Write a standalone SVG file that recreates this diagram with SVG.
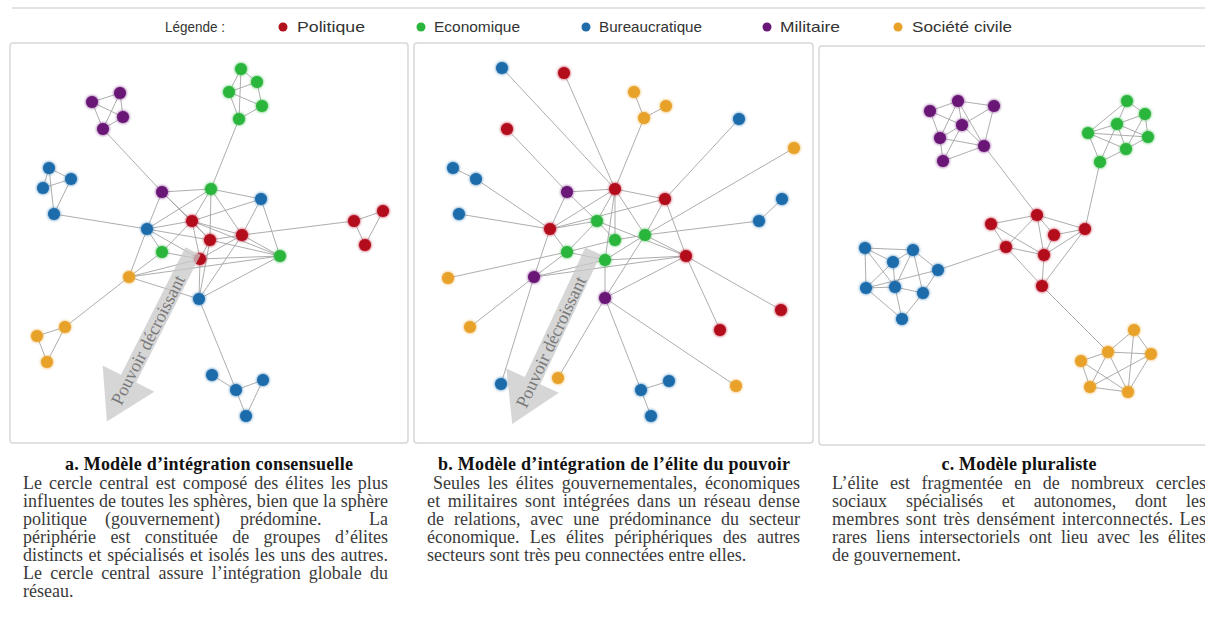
<svg xmlns="http://www.w3.org/2000/svg" width="1205" height="631" viewBox="0 0 1205 631">
<style>
.panel{fill:#fff;stroke:#d8d8d8;stroke-width:1.5}
.e line{stroke:#a4a4a4;stroke-width:1;stroke-opacity:0.9}
.r{fill:#b3101e}.g{fill:#2cb53c}.b{fill:#1f6cab}.p{fill:#6a1877}.o{fill:#e8a229}
.lg{font-family:"Liberation Sans",Arial,sans-serif;font-size:15px;fill:#333}
.t{font-family:"Liberation Serif","Times New Roman",serif;font-size:18px;font-weight:bold;fill:#111;text-anchor:middle}
.x{font-family:"Liberation Serif","Times New Roman",serif;font-size:18px;fill:#3a3a3a}
.arr{fill:#c8c8c8;fill-opacity:0.75}
.at{font-family:"Liberation Serif","Times New Roman",serif;font-size:18px;fill:#7a7a7a;text-anchor:middle;dominant-baseline:central}
</style>
<defs>
<filter id="glow" x="-50%" y="-50%" width="200%" height="200%">
<feGaussianBlur in="SourceGraphic" stdDeviation="1.6" result="bl"/>
<feMerge><feMergeNode in="bl"/><feMergeNode in="SourceGraphic"/></feMerge>
</filter>
<path id="arrowShape" d="M0,-8.5 L143,-8.5 L143,-29 L191,0 L143,29 L143,8.5 L0,8.5 Z"/>
</defs>
<rect width="1205" height="631" fill="#fff"/>
<line x1="12" y1="8" x2="1205" y2="8" stroke="#e4e4e4" stroke-width="2"/>

<g id="legend">
<text class="lg" x="165" y="32" textLength="60" lengthAdjust="spacingAndGlyphs">Légende :</text>
<circle cx="283" cy="27" r="4.5" class="r"/><text class="lg" x="297" y="32" textLength="68" lengthAdjust="spacingAndGlyphs">Politique</text>
<circle cx="421" cy="27" r="4.5" class="g"/><text class="lg" x="434" y="32" textLength="86" lengthAdjust="spacingAndGlyphs">Economique</text>
<circle cx="586" cy="27" r="4.5" class="b"/><text class="lg" x="599" y="32" textLength="103" lengthAdjust="spacingAndGlyphs">Bureaucratique</text>
<circle cx="767" cy="27" r="4.5" class="p"/><text class="lg" x="780" y="32" textLength="60" lengthAdjust="spacingAndGlyphs">Militaire</text>
<circle cx="898" cy="27" r="4.5" class="o"/><text class="lg" x="912" y="32" textLength="100" lengthAdjust="spacingAndGlyphs">Société civile</text>
</g>

<rect class="panel" x="10" y="43" width="398" height="400" rx="3"/>
<rect class="panel" x="414" y="43" width="399" height="400" rx="3"/>
<rect class="panel" x="819" y="46" width="400" height="399" rx="3"/>

<!-- Panel a connectors -->
<g id="connectors-a" class="e">
<line x1="92" y1="102" x2="120" y2="93"/><line x1="92" y1="102" x2="103" y2="129"/><line x1="120" y1="93" x2="103" y2="129"/><line x1="120" y1="93" x2="123" y2="117"/><line x1="103" y1="129" x2="123" y2="117"/><line x1="92" y1="102" x2="123" y2="117"/>
<line x1="103" y1="129" x2="162" y2="192"/>
<line x1="241" y1="69" x2="257" y2="82"/><line x1="241" y1="69" x2="229" y2="92"/><line x1="257" y1="82" x2="229" y2="92"/><line x1="257" y1="82" x2="262" y2="106"/><line x1="229" y1="92" x2="262" y2="106"/><line x1="229" y1="92" x2="239" y2="119"/><line x1="262" y1="106" x2="239" y2="119"/><line x1="241" y1="69" x2="239" y2="119"/>
<line x1="239" y1="119" x2="211" y2="189"/>
<line x1="49" y1="168" x2="71" y2="179"/><line x1="49" y1="168" x2="43" y2="188"/><line x1="43" y1="188" x2="71" y2="179"/><line x1="49" y1="168" x2="54" y2="214"/><line x1="71" y1="179" x2="54" y2="214"/>
<line x1="54" y1="214" x2="147" y2="229"/>
<line x1="354" y1="221" x2="383" y2="211"/><line x1="354" y1="221" x2="365" y2="245"/><line x1="383" y1="211" x2="365" y2="245"/><line x1="354" y1="221" x2="242" y2="235"/>
<line x1="65" y1="327" x2="37" y2="336"/><line x1="37" y1="336" x2="47" y2="362"/><line x1="65" y1="327" x2="47" y2="362"/><line x1="65" y1="327" x2="129" y2="277"/>
<line x1="212" y1="375" x2="236" y2="390"/><line x1="236" y1="390" x2="263" y2="380"/><line x1="236" y1="390" x2="246" y2="416"/><line x1="263" y1="380" x2="246" y2="416"/><line x1="236" y1="390" x2="199" y2="299"/>
<line x1="162" y1="192" x2="211" y2="189"/><line x1="162" y1="192" x2="192" y2="221"/><line x1="162" y1="192" x2="147" y2="229"/><line x1="162" y1="192" x2="210" y2="240"/>
<line x1="211" y1="189" x2="261" y2="199"/><line x1="211" y1="189" x2="192" y2="221"/><line x1="211" y1="189" x2="210" y2="240"/><line x1="211" y1="189" x2="242" y2="235"/><line x1="211" y1="189" x2="147" y2="229"/>
<line x1="261" y1="199" x2="192" y2="221"/><line x1="261" y1="199" x2="242" y2="235"/><line x1="261" y1="199" x2="280" y2="256"/>
<line x1="192" y1="221" x2="147" y2="229"/><line x1="192" y1="221" x2="242" y2="235"/><line x1="192" y1="221" x2="210" y2="240"/><line x1="192" y1="221" x2="162" y2="252"/><line x1="192" y1="221" x2="200" y2="259"/><line x1="192" y1="221" x2="280" y2="256"/>
<line x1="147" y1="229" x2="162" y2="252"/><line x1="147" y1="229" x2="200" y2="259"/><line x1="147" y1="229" x2="129" y2="277"/><line x1="147" y1="229" x2="210" y2="240"/>
<line x1="210" y1="240" x2="242" y2="235"/><line x1="210" y1="240" x2="200" y2="259"/><line x1="210" y1="240" x2="280" y2="256"/><line x1="210" y1="240" x2="199" y2="299"/>
<line x1="242" y1="235" x2="200" y2="259"/><line x1="242" y1="235" x2="280" y2="256"/><line x1="242" y1="235" x2="199" y2="299"/>
<line x1="162" y1="252" x2="200" y2="259"/><line x1="162" y1="252" x2="129" y2="277"/>
<line x1="200" y1="259" x2="280" y2="256"/><line x1="200" y1="259" x2="199" y2="299"/><line x1="200" y1="259" x2="129" y2="277"/>
<line x1="280" y1="256" x2="199" y2="299"/><line x1="129" y1="277" x2="199" y2="299"/><line x1="129" y1="277" x2="280" y2="256"/>
</g>

<!-- Panel b connectors -->
<g id="connectors-b" class="e">
<line x1="502" y1="68" x2="615" y2="189"/><line x1="564" y1="73" x2="615" y2="189"/><line x1="634" y1="92" x2="644" y2="118"/><line x1="666" y1="106" x2="644" y2="118"/><line x1="644" y1="118" x2="615" y2="189"/>
<line x1="739" y1="119" x2="665" y2="199"/><line x1="794" y1="148" x2="645" y2="235"/><line x1="507" y1="129" x2="567" y2="192"/>
<line x1="453" y1="168" x2="476" y2="179"/><line x1="476" y1="179" x2="550" y2="229"/><line x1="459" y1="214" x2="550" y2="229"/>
<line x1="782" y1="199" x2="759" y2="221"/><line x1="759" y1="221" x2="645" y2="235"/>
<line x1="448" y1="278" x2="567" y2="252"/><line x1="470" y1="327" x2="534" y2="277"/><line x1="501" y1="384" x2="534" y2="277"/>
<line x1="558" y1="378" x2="605" y2="298"/><line x1="641" y1="390" x2="605" y2="298"/><line x1="641" y1="390" x2="669" y2="381"/><line x1="641" y1="390" x2="651" y2="416"/>
<line x1="736" y1="386" x2="605" y2="298"/><line x1="720" y1="330" x2="686" y2="256"/><line x1="781" y1="310" x2="686" y2="256"/>
<line x1="567" y1="192" x2="615" y2="189"/><line x1="567" y1="192" x2="550" y2="229"/><line x1="567" y1="192" x2="597" y2="221"/>
<line x1="615" y1="189" x2="665" y2="199"/><line x1="615" y1="189" x2="550" y2="229"/><line x1="615" y1="189" x2="597" y2="221"/><line x1="615" y1="189" x2="615" y2="240"/><line x1="615" y1="189" x2="645" y2="235"/><line x1="615" y1="189" x2="605" y2="260"/>
<line x1="665" y1="199" x2="550" y2="229"/><line x1="665" y1="199" x2="645" y2="235"/><line x1="665" y1="199" x2="686" y2="256"/>
<line x1="550" y1="229" x2="597" y2="221"/><line x1="550" y1="229" x2="567" y2="252"/><line x1="550" y1="229" x2="534" y2="277"/>
<line x1="597" y1="221" x2="615" y2="240"/><line x1="597" y1="221" x2="567" y2="252"/><line x1="597" y1="221" x2="686" y2="256"/>
<line x1="615" y1="240" x2="645" y2="235"/><line x1="615" y1="240" x2="567" y2="252"/>
<line x1="645" y1="235" x2="686" y2="256"/><line x1="645" y1="235" x2="605" y2="260"/><line x1="645" y1="235" x2="605" y2="298"/>
<line x1="567" y1="252" x2="605" y2="260"/><line x1="567" y1="252" x2="534" y2="277"/>
<line x1="605" y1="260" x2="686" y2="256"/><line x1="605" y1="260" x2="605" y2="298"/><line x1="534" y1="277" x2="686" y2="256"/><line x1="605" y1="298" x2="686" y2="256"/><line x1="534" y1="277" x2="605" y2="260"/>
</g>

<!-- Panel c connectors -->
<g id="connectors-c" class="e">
<line x1="984" y1="146" x2="1037" y2="215"/><line x1="1100" y1="162" x2="1085" y2="229"/><line x1="938" y1="270" x2="1006" y2="247"/><line x1="1042" y1="286" x2="1108" y2="352"/>
<line x1="1037" y1="215" x2="991" y2="224"/><line x1="1037" y1="215" x2="1085" y2="229"/><line x1="1037" y1="215" x2="1006" y2="247"/><line x1="1037" y1="215" x2="1044" y2="255"/><line x1="991" y1="224" x2="1006" y2="247"/><line x1="991" y1="224" x2="1044" y2="255"/><line x1="1054" y1="235" x2="1085" y2="229"/><line x1="1054" y1="235" x2="1044" y2="255"/><line x1="1037" y1="215" x2="1054" y2="235"/><line x1="1006" y1="247" x2="1044" y2="255"/><line x1="1044" y1="255" x2="1085" y2="229"/><line x1="1006" y1="247" x2="1042" y2="286"/><line x1="1044" y1="255" x2="1042" y2="286"/><line x1="1085" y1="229" x2="1042" y2="286"/>
<line x1="930" y1="111" x2="958" y2="101"/><line x1="958" y1="101" x2="994" y2="106"/><line x1="930" y1="111" x2="962" y2="125"/><line x1="930" y1="111" x2="940" y2="138"/><line x1="958" y1="101" x2="962" y2="125"/><line x1="958" y1="101" x2="984" y2="146"/><line x1="994" y1="106" x2="984" y2="146"/><line x1="994" y1="106" x2="962" y2="125"/><line x1="962" y1="125" x2="940" y2="138"/><line x1="962" y1="125" x2="984" y2="146"/><line x1="940" y1="138" x2="943" y2="161"/><line x1="940" y1="138" x2="984" y2="146"/><line x1="943" y1="161" x2="984" y2="146"/><line x1="958" y1="101" x2="940" y2="138"/><line x1="943" y1="161" x2="962" y2="125"/>
<line x1="1127" y1="101" x2="1145" y2="114"/><line x1="1127" y1="101" x2="1117" y2="124"/><line x1="1127" y1="101" x2="1088" y2="133"/><line x1="1145" y1="114" x2="1117" y2="124"/><line x1="1145" y1="114" x2="1148" y2="137"/><line x1="1145" y1="114" x2="1126" y2="149"/><line x1="1117" y1="124" x2="1088" y2="133"/><line x1="1117" y1="124" x2="1148" y2="137"/><line x1="1117" y1="124" x2="1126" y2="149"/><line x1="1088" y1="133" x2="1126" y2="149"/><line x1="1088" y1="133" x2="1100" y2="162"/><line x1="1088" y1="133" x2="1148" y2="137"/><line x1="1148" y1="137" x2="1126" y2="149"/><line x1="1126" y1="149" x2="1100" y2="162"/><line x1="1117" y1="124" x2="1100" y2="162"/>
<line x1="865" y1="248" x2="913" y2="250"/><line x1="865" y1="248" x2="893" y2="262"/><line x1="865" y1="248" x2="866" y2="288"/><line x1="865" y1="248" x2="895" y2="287"/><line x1="913" y1="250" x2="893" y2="262"/><line x1="913" y1="250" x2="938" y2="270"/><line x1="913" y1="250" x2="895" y2="287"/><line x1="913" y1="250" x2="923" y2="293"/><line x1="893" y1="262" x2="866" y2="288"/><line x1="893" y1="262" x2="895" y2="287"/><line x1="938" y1="270" x2="923" y2="293"/><line x1="938" y1="270" x2="866" y2="288"/><line x1="866" y1="288" x2="895" y2="287"/><line x1="866" y1="288" x2="902" y2="319"/><line x1="895" y1="287" x2="923" y2="293"/><line x1="895" y1="287" x2="902" y2="319"/><line x1="923" y1="293" x2="902" y2="319"/>
<line x1="1134" y1="330" x2="1108" y2="352"/><line x1="1134" y1="330" x2="1151" y2="354"/><line x1="1134" y1="330" x2="1128" y2="392"/><line x1="1108" y1="352" x2="1081" y2="361"/><line x1="1108" y1="352" x2="1151" y2="354"/><line x1="1108" y1="352" x2="1090" y2="387"/><line x1="1108" y1="352" x2="1128" y2="392"/><line x1="1081" y1="361" x2="1090" y2="387"/><line x1="1151" y1="354" x2="1090" y2="387"/><line x1="1151" y1="354" x2="1128" y2="392"/><line x1="1090" y1="387" x2="1128" y2="392"/><line x1="1081" y1="361" x2="1128" y2="392"/>
</g>

<!-- Panel a nodes -->
<g id="nodes-a" filter="url(#glow)">
<g id="a-p1" class="p"><circle cx="92" cy="102" r="6"/></g>
<g id="a-p2" class="p"><circle cx="120" cy="93" r="6"/></g>
<g id="a-p3" class="p"><circle cx="123" cy="117" r="6"/></g>
<g id="a-p4" class="p"><circle cx="103" cy="129" r="6"/></g>
<g id="a-g1" class="g"><circle cx="241" cy="69" r="6"/></g>
<g id="a-g2" class="g"><circle cx="257" cy="82" r="6"/></g>
<g id="a-g3" class="g"><circle cx="229" cy="92" r="6"/></g>
<g id="a-g4" class="g"><circle cx="262" cy="106" r="6"/></g>
<g id="a-g5" class="g"><circle cx="239" cy="119" r="6"/></g>
<g id="a-b1" class="b"><circle cx="49" cy="168" r="6"/></g>
<g id="a-b2" class="b"><circle cx="71" cy="179" r="6"/></g>
<g id="a-b3" class="b"><circle cx="43" cy="188" r="6"/></g>
<g id="a-b4" class="b"><circle cx="54" cy="214" r="6"/></g>
<g id="a-cp" class="p"><circle cx="162" cy="192" r="6"/></g>
<g id="a-cg1" class="g"><circle cx="211" cy="189" r="6"/></g>
<g id="a-cb1" class="b"><circle cx="261" cy="199" r="6"/></g>
<g id="a-cr1" class="r"><circle cx="192" cy="221" r="6"/></g>
<g id="a-cb2" class="b"><circle cx="147" cy="229" r="6"/></g>
<g id="a-cr2" class="r"><circle cx="210" cy="240" r="6"/></g>
<g id="a-cr3" class="r"><circle cx="242" cy="235" r="6"/></g>
<g id="a-cg2" class="g"><circle cx="162" cy="252" r="6"/></g>
<g id="a-cr4" class="r"><circle cx="200" cy="259" r="6"/></g>
<g id="a-cg3" class="g"><circle cx="280" cy="256" r="6"/></g>
<g id="a-co" class="o"><circle cx="129" cy="277" r="6"/></g>
<g id="a-cb3" class="b"><circle cx="199" cy="299" r="6"/></g>
<g id="a-r1" class="r"><circle cx="354" cy="221" r="6"/></g>
<g id="a-r2" class="r"><circle cx="383" cy="211" r="6"/></g>
<g id="a-r3" class="r"><circle cx="365" cy="245" r="6"/></g>
<g id="a-o1" class="o"><circle cx="65" cy="327" r="6"/></g>
<g id="a-o2" class="o"><circle cx="37" cy="336" r="6"/></g>
<g id="a-o3" class="o"><circle cx="47" cy="362" r="6"/></g>
<g id="a-b5" class="b"><circle cx="212" cy="375" r="6"/></g>
<g id="a-b6" class="b"><circle cx="236" cy="390" r="6"/></g>
<g id="a-b7" class="b"><circle cx="263" cy="380" r="6"/></g>
<g id="a-b8" class="b"><circle cx="246" cy="416" r="6"/></g>
</g>

<!-- Panel b nodes -->
<g id="nodes-b" filter="url(#glow)">
<g id="b-b1" class="b"><circle cx="502" cy="68" r="6"/></g>
<g id="b-r1" class="r"><circle cx="564" cy="73" r="6"/></g>
<g id="b-o1" class="o"><circle cx="634" cy="92" r="6"/></g>
<g id="b-o2" class="o"><circle cx="666" cy="106" r="6"/></g>
<g id="b-o3" class="o"><circle cx="644" cy="118" r="6"/></g>
<g id="b-b2" class="b"><circle cx="739" cy="119" r="6"/></g>
<g id="b-o4" class="o"><circle cx="794" cy="148" r="6"/></g>
<g id="b-r2" class="r"><circle cx="507" cy="129" r="6"/></g>
<g id="b-b3" class="b"><circle cx="453" cy="168" r="6"/></g>
<g id="b-b4" class="b"><circle cx="476" cy="179" r="6"/></g>
<g id="b-b5" class="b"><circle cx="459" cy="214" r="6"/></g>
<g id="b-b6" class="b"><circle cx="782" cy="199" r="6"/></g>
<g id="b-b7" class="b"><circle cx="759" cy="221" r="6"/></g>
<g id="b-cp1" class="p"><circle cx="567" cy="192" r="6"/></g>
<g id="b-cr1" class="r"><circle cx="615" cy="189" r="6"/></g>
<g id="b-cr2" class="r"><circle cx="665" cy="199" r="6"/></g>
<g id="b-cr3" class="r"><circle cx="550" cy="229" r="6"/></g>
<g id="b-cg1" class="g"><circle cx="597" cy="221" r="6"/></g>
<g id="b-cg2" class="g"><circle cx="615" cy="240" r="6"/></g>
<g id="b-cg3" class="g"><circle cx="645" cy="235" r="6"/></g>
<g id="b-cg4" class="g"><circle cx="567" cy="252" r="6"/></g>
<g id="b-cg5" class="g"><circle cx="605" cy="260" r="6"/></g>
<g id="b-cr4" class="r"><circle cx="686" cy="256" r="6"/></g>
<g id="b-cp2" class="p"><circle cx="534" cy="277" r="6"/></g>
<g id="b-cp3" class="p"><circle cx="605" cy="298" r="6"/></g>
<g id="b-o5" class="o"><circle cx="448" cy="278" r="6"/></g>
<g id="b-o6" class="o"><circle cx="470" cy="327" r="6"/></g>
<g id="b-b8" class="b"><circle cx="501" cy="384" r="6"/></g>
<g id="b-o7" class="o"><circle cx="558" cy="378" r="6"/></g>
<g id="b-b9" class="b"><circle cx="641" cy="390" r="6"/></g>
<g id="b-b10" class="b"><circle cx="669" cy="381" r="6"/></g>
<g id="b-b11" class="b"><circle cx="651" cy="416" r="6"/></g>
<g id="b-o8" class="o"><circle cx="736" cy="386" r="6"/></g>
<g id="b-r3" class="r"><circle cx="720" cy="330" r="6"/></g>
<g id="b-r4" class="r"><circle cx="781" cy="310" r="6"/></g>
</g>

<!-- Panel c nodes -->
<g id="nodes-c" filter="url(#glow)">
<g id="c-p1" class="p"><circle cx="930" cy="111" r="6"/></g>
<g id="c-p2" class="p"><circle cx="958" cy="101" r="6"/></g>
<g id="c-p3" class="p"><circle cx="994" cy="106" r="6"/></g>
<g id="c-p4" class="p"><circle cx="962" cy="125" r="6"/></g>
<g id="c-p5" class="p"><circle cx="940" cy="138" r="6"/></g>
<g id="c-p6" class="p"><circle cx="984" cy="146" r="6"/></g>
<g id="c-p7" class="p"><circle cx="943" cy="161" r="6"/></g>
<g id="c-g1" class="g"><circle cx="1127" cy="101" r="6"/></g>
<g id="c-g2" class="g"><circle cx="1145" cy="114" r="6"/></g>
<g id="c-g3" class="g"><circle cx="1117" cy="124" r="6"/></g>
<g id="c-g4" class="g"><circle cx="1088" cy="133" r="6"/></g>
<g id="c-g5" class="g"><circle cx="1148" cy="137" r="6"/></g>
<g id="c-g6" class="g"><circle cx="1126" cy="149" r="6"/></g>
<g id="c-g7" class="g"><circle cx="1100" cy="162" r="6"/></g>
<g id="c-r1" class="r"><circle cx="1037" cy="215" r="6"/></g>
<g id="c-r2" class="r"><circle cx="991" cy="224" r="6"/></g>
<g id="c-r3" class="r"><circle cx="1085" cy="229" r="6"/></g>
<g id="c-r4" class="r"><circle cx="1054" cy="235" r="6"/></g>
<g id="c-r5" class="r"><circle cx="1006" cy="247" r="6"/></g>
<g id="c-r6" class="r"><circle cx="1044" cy="255" r="6"/></g>
<g id="c-r7" class="r"><circle cx="1042" cy="286" r="6"/></g>
<g id="c-b1" class="b"><circle cx="865" cy="248" r="6"/></g>
<g id="c-b2" class="b"><circle cx="913" cy="250" r="6"/></g>
<g id="c-b3" class="b"><circle cx="893" cy="262" r="6"/></g>
<g id="c-b4" class="b"><circle cx="938" cy="270" r="6"/></g>
<g id="c-b5" class="b"><circle cx="866" cy="288" r="6"/></g>
<g id="c-b6" class="b"><circle cx="895" cy="287" r="6"/></g>
<g id="c-b7" class="b"><circle cx="923" cy="293" r="6"/></g>
<g id="c-b8" class="b"><circle cx="902" cy="319" r="6"/></g>
<g id="c-o1" class="o"><circle cx="1134" cy="330" r="6"/></g>
<g id="c-o2" class="o"><circle cx="1108" cy="352" r="6"/></g>
<g id="c-o3" class="o"><circle cx="1151" cy="354" r="6"/></g>
<g id="c-o4" class="o"><circle cx="1081" cy="361" r="6"/></g>
<g id="c-o5" class="o"><circle cx="1090" cy="387" r="6"/></g>
<g id="c-o6" class="o"><circle cx="1128" cy="392" r="6"/></g>
</g>

<!-- Arrows -->
<g id="arrow-a">
<use href="#arrowShape" class="arr" transform="translate(193,251) rotate(116.8)"/>
<text class="at" transform="translate(148,340) rotate(-63.2)">Pouvoir décroissant</text>
</g>
<g id="arrow-b">
<use href="#arrowShape" class="arr" transform="translate(593,251) rotate(115)"/>
<text class="at" transform="translate(551,342) rotate(-65)">Pouvoir décroissant</text>
</g>

<!-- Captions -->
<g id="caption-a">
<text class="t" x="209" y="470" textLength="288" lengthAdjust="spacing">a. Modèle d’intégration consensuelle</text>
<text class="x" x="23" y="489" word-spacing="2.4" textLength="365" lengthAdjust="spacing">Le cercle central est composé des élites les plus</text>
<text class="x" x="23" y="507" textLength="365" lengthAdjust="spacing">influentes de toutes les sphères, bien que la sphère</text>
<text class="x" y="525"><tspan x="23">politique</tspan><tspan x="105">(gouvernement)</tspan><tspan x="240">prédomine.</tspan><tspan x="388" text-anchor="end">La</tspan></text>
<text class="x" x="23" y="543" word-spacing="9.9" textLength="365" lengthAdjust="spacing">périphérie est constituée de groupes d’élites</text>
<text class="x" x="23" y="561" word-spacing="1" textLength="365" lengthAdjust="spacing">distincts et spécialisés et isolés les uns des autres.</text>
<text class="x" x="23" y="579" word-spacing="3.7" textLength="365" lengthAdjust="spacing">Le cercle central assure l’intégration globale du</text>
<text class="x" x="23" y="597">réseau.</text>
</g>
<g id="caption-b">
<text class="t" x="614" y="470" textLength="352" lengthAdjust="spacing">b. Modèle d’intégration de l’élite du pouvoir</text>
<text class="x" x="433" y="489" word-spacing="3.4" textLength="367" lengthAdjust="spacing">Seules les élites gouvernementales, économiques</text>
<text class="x" x="427" y="507" word-spacing="2.7" textLength="373" lengthAdjust="spacing">et militaires sont intégrées dans un réseau dense</text>
<text class="x" x="427" y="525" word-spacing="5.4" textLength="373" lengthAdjust="spacing">de relations, avec une prédominance du secteur</text>
<text class="x" x="427" y="543" word-spacing="5.8" textLength="373" lengthAdjust="spacing">économique. Les élites périphériques des autres</text>
<text class="x" x="427" y="561">secteurs sont très peu connectées entre elles.</text>
</g>
<g id="caption-c">
<text class="t" x="1019" y="470" textLength="155" lengthAdjust="spacing">c. Modèle pluraliste</text>
<text class="x" x="832" y="489" word-spacing="6.8" textLength="374" lengthAdjust="spacing">L’élite est fragmentée en de nombreux cercles</text>
<text class="x" x="832" y="507" word-spacing="14.4" textLength="374" lengthAdjust="spacing">sociaux spécialisés et autonomes, dont les</text>
<text class="x" x="832" y="525" word-spacing="1.8" textLength="374" lengthAdjust="spacing">membres sont très densément interconnectés. Les</text>
<text class="x" x="832" y="543" word-spacing="4.5" textLength="374" lengthAdjust="spacing">rares liens intersectoriels ont lieu avec les élites</text>
<text class="x" x="832" y="561">de gouvernement.</text>
</g>
</svg>
